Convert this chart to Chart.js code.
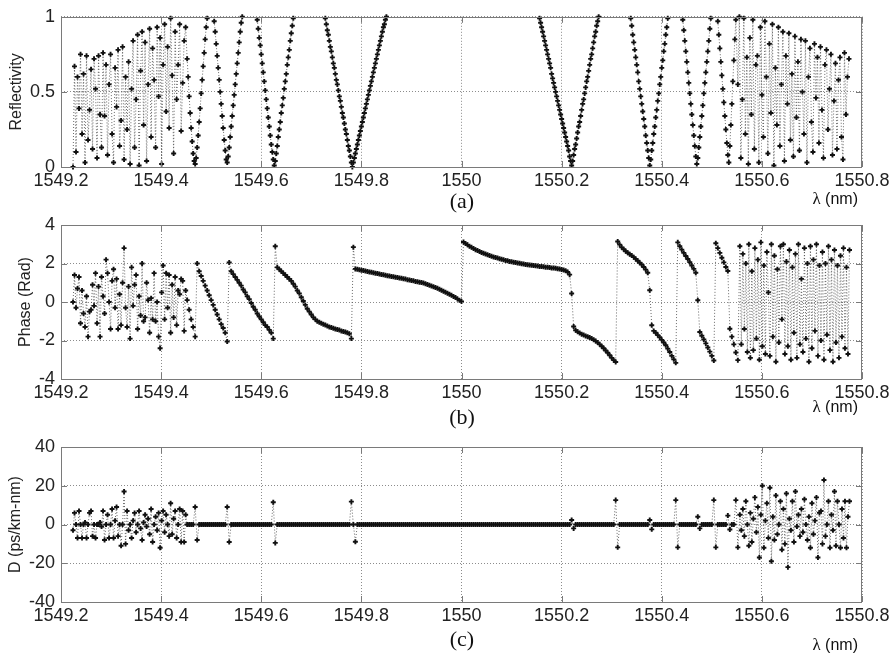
<!DOCTYPE html>
<html>
<head>
<meta charset="utf-8">
<title>Reflectivity, phase and dispersion</title>
<script src="https://cdn.jsdelivr.net/npm/chart.js@4.4.1/dist/chart.umd.min.js"></script>
<style>
  body { margin: 0; background: #fff; }
  #figure { position: relative; width: 896px; height: 654px; }
  #figure canvas { position: absolute; left: 0; }
  .caption { position: absolute; left: 412px; width: 100px; text-align: center; font: 22px "Liberation Serif", serif; line-height: 24px; color: #111; }
  .unit { position: absolute; right: 38px; font: 16px "Liberation Sans", Arial, sans-serif; line-height: 18px; color: #111; }
  .unit span { font-family: "Liberation Serif", serif; font-size: 17px; }
</style>
</head>
<body>
<div id="figure">
  <canvas id="reflChart" width="896" height="200" style="top:0"></canvas>
  <canvas id="phaseChart" width="896" height="220" style="top:200px"></canvas>
  <canvas id="dispChart" width="896" height="234" style="top:420px"></canvas>
  <div class="caption" style="top:189px">(a)</div>
  <div class="unit" style="top:190px"><span>λ</span> (nm)</div>
  <div class="caption" style="top:405px">(b)</div>
  <div class="unit" style="top:398px"><span>λ</span> (nm)</div>
  <div class="caption" style="top:627px">(c)</div>
  <div class="unit" style="top:636px"><span>λ</span> (nm)</div>
</div>
<script>
// Axis ticks
const xTicks = [1549.2, 1549.4, 1549.6, 1549.8, 1550, 1550.2, 1550.4, 1550.6, 1550.8];
const reflTicks = [0, 0.5, 1];
const phaseTicks = [-4, -2, 0, 2, 4];
const dispTicks = [-40, -20, 0, 20, 40];

// (a) Reflectivity. Noisy edges sampled every 0.003 nm, the dips every 0.002 nm
const reflNoiseLeft = [  // from 1549.224
  0.0, 0.67, 0.1, 0.6, 0.39, 0.75, 0.22, 0.62, 0.03, 0.74,
  0.18, 0.38, 0.65, 0.12, 0.72, 0.52, 0.06, 0.74, 0.35, 0.13,
  0.76, 0.34, 0.68, 0.08, 0.55, 0.75, 0.22, 0.03, 0.66, 0.4,
  0.78, 0.14, 0.31, 0.8, 0.05, 0.6, 0.25, 0.7, 0.02, 0.52,
  0.84, 0.13, 0.45, 0.88, 0.01, 0.64, 0.9, 0.28, 0.83, 0.04,
  0.55, 0.92, 0.2, 0.79, 0.58, 0.13, 0.93, 0.47, 0.86, 0.02,
  0.68, 0.95, 0.37, 0.8, 0.26, 0.99, 0.61, 0.09, 0.9, 0.45,
  0.68, 0.95, 0.24, 0.56, 0.84, 0.93
];
const reflDip1 = [0.72, 0.6, 0.47, 0.36, 0.26, 0.17, 0.09, 0.04, 0.02, 0.06, 0.13, 0.21, 0.3, 0.39, 0.49, 0.58, 0.67, 0.76, 0.85, 0.93, 0.99];
const reflDip2 = [0.97, 0.9, 0.82, 0.74, 0.66, 0.58, 0.5, 0.42, 0.34, 0.26, 0.18, 0.11, 0.05, 0.03,
  0.07, 0.13, 0.2, 0.27, 0.34, 0.41, 0.48, 0.55, 0.62, 0.69, 0.76, 0.83, 0.9, 0.96, 1.0];
const reflDip3 = [0.98, 0.92, 0.86, 0.81, 0.75, 0.69, 0.63, 0.57, 0.51, 0.45, 0.39, 0.33, 0.27, 0.21, 0.15, 0.1, 0.05, 0.01,
  0.04, 0.09, 0.14, 0.2, 0.25, 0.3, 0.36, 0.41, 0.46, 0.52, 0.57, 0.62, 0.68, 0.73, 0.78, 0.84, 0.89, 0.94, 0.99];
const reflDip4 = [0.99, 0.95, 0.91, 0.88, 0.84, 0.8, 0.77, 0.73, 0.69, 0.66, 0.62, 0.58, 0.55, 0.51, 0.47, 0.44, 0.4, 0.36,
  0.33, 0.29, 0.25, 0.22, 0.18, 0.14, 0.11, 0.07, 0.03, 0.0,
  0.03, 0.06, 0.09, 0.12, 0.15, 0.18, 0.21, 0.24, 0.27, 0.3, 0.33, 0.36, 0.39, 0.42, 0.45, 0.48, 0.51, 0.54,
  0.57, 0.6, 0.63, 0.66, 0.69, 0.72, 0.75, 0.78, 0.81, 0.84, 0.87, 0.9, 0.93, 0.95, 0.98, 1.0];
const reflDip5 = [0.99, 0.96, 0.93, 0.9, 0.87, 0.84, 0.81, 0.78, 0.75, 0.72, 0.69, 0.66, 0.62, 0.59, 0.56, 0.53, 0.5,
  0.47, 0.44, 0.41, 0.38, 0.35, 0.32, 0.29, 0.26, 0.23, 0.2, 0.17, 0.14, 0.11, 0.07, 0.04, 0.01,
  0.04, 0.08, 0.12, 0.15, 0.19, 0.23, 0.27, 0.3, 0.34, 0.38, 0.42, 0.45, 0.49, 0.53, 0.57, 0.6, 0.64,
  0.68, 0.72, 0.75, 0.79, 0.83, 0.87, 0.9, 0.94, 0.97, 1.0];
const reflDip6 = [0.99, 0.94, 0.88, 0.83, 0.78, 0.73, 0.68, 0.63, 0.57, 0.52, 0.47, 0.42, 0.37, 0.32, 0.27, 0.21, 0.16, 0.11, 0.06, 0.01,
  0.05, 0.11, 0.16, 0.22, 0.27, 0.33, 0.38, 0.44, 0.49, 0.55, 0.6, 0.66, 0.71, 0.77, 0.82, 0.88, 0.93, 0.99];
const reflDip7 = [0.98, 0.91, 0.84, 0.77, 0.7, 0.63, 0.56, 0.49, 0.42, 0.35, 0.28, 0.21, 0.14, 0.07, 0.02,
  0.06, 0.13, 0.2, 0.27, 0.34, 0.41, 0.49, 0.56, 0.63, 0.7, 0.77, 0.84, 0.92, 0.99];
const reflDip8 = [0.97, 0.88, 0.79, 0.7, 0.61, 0.52, 0.43, 0.34, 0.25, 0.16, 0.08, 0.03,
  0.14, 0.28, 0.42, 0.57, 0.71, 0.85, 0.98];
const reflNoiseRight = [  // from 1550.552
  0.55, 1.0, 0.06, 0.45, 0.99, 0.22, 0.73, 0.02, 0.86, 0.35,
  0.98, 0.12, 0.68, 0.74, 0.03, 0.93, 0.48, 0.2, 0.97, 0.6,
  0.09, 0.82, 0.36, 0.95, 0.01, 0.66, 0.28, 0.93, 0.14, 0.55,
  0.9, 0.04, 0.74, 0.42, 0.89, 0.18, 0.62, 0.07, 0.87, 0.33,
  0.7, 0.11, 0.85, 0.5, 0.22, 0.84, 0.03, 0.6, 0.79, 0.3,
  0.1, 0.82, 0.46, 0.73, 0.16, 0.8, 0.38, 0.06, 0.68, 0.78,
  0.25, 0.52, 0.75, 0.08, 0.44, 0.69, 0.12, 0.58, 0.73, 0.2,
  0.05, 0.76, 0.35, 0.6, 0.72
];

// (b) Phase (rad)
const phaseNoiseLeft = [  // from 1549.224, every 0.003 nm
  0.0, 1.4, -0.3, 0.7, 1.3, -1.1, 0.6, -0.6, -1.3, 0.3,
  -1.8, -0.5, -0.4, 0.9, -0.2, 1.5, -1.1, 0.8, -1.8, 1.3,
  0.3, -0.6, 2.2, 1.5, 0.0, -1.4, 1.1, 1.7, -0.3, 1.2,
  -1.4, 0.4, -1.2, 1.0, 2.8, -0.3, -1.3, 0.8, -1.9, 1.8,
  -0.2, 0.9, 1.4, -1.4, 0.3, -0.7, 2.0, -1.0, -0.8, 1.0,
  0.1, -1.6, 0.2, -0.9, 1.5, -1.0, 0.0, -1.8, -2.4, 0.5,
  1.9, -0.9, 1.5, -0.3, 1.4, -1.6, 0.9, -0.8, 1.3, -1.2,
  0.6, 0.4, 1.2, 1.1, -1.5, 0.6
];
const phaseSmooth = [  // from 1549.452, every 0.004 nm
  0.1, -0.4, -0.9, -1.3, -1.8, 2.0, 1.6, 1.35, 1.1, 0.85,
  0.6, 0.35, 0.1, -0.15, -0.4, -0.65, -0.9, -1.15, -1.35, -1.6,
  -2.05, 2.05, 1.6, 1.45, 1.3, 1.15, 1.0, 0.85, 0.65, 0.5,
  0.3, 0.15, -0.05, -0.25, -0.4, -0.6, -0.75, -0.9, -1.05, -1.2,
  -1.3, -1.45, -1.6, -1.9, 2.9, 1.8, 1.7, 1.6, 1.5, 1.4,
  1.3, 1.2, 1.1, 0.95, 0.8, 0.6, 0.45, 0.25, 0.05, -0.15,
  -0.35, -0.5, -0.65, -0.8, -0.9, -1.0, -1.05, -1.1, -1.15, -1.2,
  -1.25, -1.3, -1.33, -1.36, -1.4, -1.43, -1.46, -1.5, -1.53, -1.56,
  -1.6, -1.65, -1.9, 2.85, 1.72, 1.7, 1.67, 1.65, 1.63, 1.61,
  1.59, 1.56, 1.54, 1.52, 1.5, 1.48, 1.45, 1.43, 1.41, 1.39,
  1.37, 1.35, 1.33, 1.31, 1.29, 1.27, 1.25, 1.23, 1.21, 1.19,
  1.16, 1.14, 1.12, 1.1, 1.07, 1.05, 1.03, 1.01, 0.99, 0.95,
  0.91, 0.87, 0.83, 0.79, 0.75, 0.71, 0.66, 0.61, 0.56, 0.51,
  0.46, 0.4, 0.35, 0.29, 0.23, 0.16, 0.09, 0.03, 3.12, 3.04,
  2.97, 2.9, 2.84, 2.78, 2.72, 2.67, 2.62, 2.57, 2.53, 2.49,
  2.45, 2.41, 2.38, 2.34, 2.31, 2.28, 2.25, 2.22, 2.19, 2.16,
  2.14, 2.11, 2.09, 2.07, 2.05, 2.03, 2.01, 1.99, 1.97, 1.95,
  1.94, 1.92, 1.91, 1.89, 1.88, 1.87, 1.85, 1.84, 1.83, 1.81,
  1.8, 1.79, 1.77, 1.76, 1.75, 1.73, 1.71, 1.69, 1.66, 1.62,
  1.56, 1.42, 0.44, -1.27, -1.47, -1.55, -1.61, -1.67, -1.72, -1.76,
  -1.8, -1.85, -1.9, -1.96, -2.03, -2.11, -2.2, -2.3, -2.4, -2.52,
  -2.64, -2.77, -2.9, -3.02, -3.12, 3.14, 2.98, 2.84, 2.74, 2.64,
  2.56, 2.48, 2.41, 2.33, 2.24, 2.14, 2.04, 1.94, 1.82, 1.68,
  1.52, 0.61, -1.21, -1.5, -1.6, -1.72, -1.84, -1.97, -2.1, -2.25,
  -2.42, -2.6, -2.8, -2.98, -3.16, 3.1, 2.9, 2.72, 2.55, 2.39,
  2.23, 2.07, 1.9, 1.72, 1.52, 0.09, -1.56, -1.75, -1.95, -2.15,
  -2.36, -2.58, -2.8, -3.04, 3.05, 2.8, 2.55, 2.3, 2.06, 1.82,
  1.61, -1.39, -1.8, -2.2, -2.62, -3.02
];
const phaseNoiseRight = [  // from 1550.556, every 0.003 nm
  2.9, -2.2, 2.5, -1.4, 2.0, -2.6, 3.0, -2.9, 1.6, -2.5,
  2.8, -1.9, 2.2, -3.0, 3.1, -2.3, 1.9, -2.7, 2.6, 0.5,
  -2.8, 3.0, -1.8, 2.4, -3.1, 1.7, -2.1, 2.9, -0.9, 3.0,
  -2.7, 2.1, -2.3, 2.7, -3.0, 1.8, -1.6, 2.5, -2.9, 3.0,
  -2.2, 1.2, -2.6, 2.8, -1.9, 2.0, -3.1, 2.9, -2.4, 2.2,
  -1.5, 3.0, -2.8, 1.9, -2.0, 2.6, -3.0, 2.0, -1.7, 2.9,
  -2.5, 2.2, -3.1, 2.7, -2.1, 1.9, -2.9, 2.4, -1.8, 2.8,
  -2.4, 1.8, -2.7, 2.7
];

// (c) Dispersion D (ps/km-nm)
const dispNoiseLeft = [  // from 1549.224, every 0.003 nm
  -3, 6, 0, -7, 7, 0, -7, 0, 1, -7,
  0, 6, 7, -6, 0, -7, 0, 0, 1, -1,
  7, -8, 0, 5, -7, 0, 8, -7, 2, 9,
  -6, 0, -11, 0, 17, -10, 7, -3, 0, -7,
  2, 6, -4, 0, 7, -2, -8, 1, 5, -1,
  3, -5, 8, -9, 0, 4, -3, 6, -12, 2,
  7, -4, 5, 0, -6, 11, -5, 3, 7, -7,
  0, 8, -9, 7, -9, 5
];
const dispFlat = [  // from 1549.452, every 0.004 nm
  0, 0, 0, 0, 9, -8, 0, 0, 0, 0,
  0, 0, 0, 0, 0, 0, 0, 0, 0, 0,
  9, -9, 0, 0, 0, 0, 0, 0, 0, 0,
  0, 0, 0, 0, 0, 0, 0, 0, 0, 0,
  0, 0, 0, 11.5, -9.5, 0, 0, 0, 0, 0,
  0, 0, 0, 0, 0, 0, 0, 0, 0, 0,
  0, 0, 0, 0, 0, 0, 0, 0, 0, 0,
  0, 0, 0, 0, 0, 0, 0, 0, 0, 0,
  0, 0, 11.8, 0, -8.9, 0, 0, 0, 0, 0,
  0, 0, 0, 0, 0, 0, 0, 0, 0, 0,
  0, 0, 0, 0, 0, 0, 0, 0, 0, 0,
  0, 0, 0, 0, 0, 0, 0, 0, 0, 0,
  0, 0, 0, 0, 0, 0, 0, 0, 0, 0,
  0, 0, 0, 0, 0, 0, 0, 0, 0, 0,
  0, 0, 0, 0, 0, 0, 0, 0, 0, 0,
  0, 0, 0, 0, 0, 0, 0, 0, 0, 0,
  0, 0, 0, 0, 0, 0, 0, 0, 0, 0,
  0, 0, 0, 0, 0, 0, 0, 0, 0, 0,
  0, 0, 0, 0, 0, 0, 0, 0, 0, 0,
  0, 0, 2.3, -2, 0, 0, 0, 0, 0, 0,
  0, 0, 0, 0, 0, 0, 0, 0, 0, 0,
  0, 0, 0, 0, 12.6, -11.8, 0, 0, 0, 0,
  0, 0, 0, 0, 0, 0, 0, 0, 0, 0,
  0, 2.3, -2.5, 0, 0, 0, 0, 0, 0, 0,
  0, 0, 0, 0, 12.6, -11.8, 0, 0, 0, 0,
  0, 0, 0, 0, 0, 4, -2, 0, 0, 0,
  0, 0, 0, 12.6, -11.8, 0, 0, 0, 0, 0,
  4.6, -2.6, 0, 0, 12.6, -11.8
];
const dispNoiseRight = [  // from 1550.556, every 0.003 nm
  5, -3, 8, -6, 12, 0, -11, 6, -9, 3,
  14, -4, 9, -17, 5, 20, -12, 2, 11, -7,
  19, -19, 4, -8, 15, -5, 0, 12, -13, 8,
  -10, 16, -22, 3, -3, 12, -9, 17, -1, 5,
  -6, 8, -4, 13, 0, -8, 4, -12, 11, -5,
  2, 14, -17, 6, 7, -10, 23, -6, 0, 12,
  -12, 5, -3, 17, -11, 12, 0, -12, 8, -7,
  12, -12, 4, 12
];

// turn [first wavelength, spacing, values, break before?] runs into scatter points
function buildPoints(runs) {
    const points = [];
    runs.forEach(([start, step, values, gapBefore]) => {
        if (gapBefore) points.push({ x: start, y: null });
        values.forEach((v, i) => points.push({ x: +(start + i * step).toFixed(4), y: v }));
    });
    return points;
}

const tickFont = { family: '"Liberation Sans", Arial, sans-serif', size: 18 };
const titleFont = { family: '"Liberation Sans", Arial, sans-serif', size: 16 };

// MATLAB-like box with small inward ticks
const boxPlugin = {
    id: 'box',
    afterDatasetsDraw(chart) {
        const { ctx, chartArea: a, scales } = chart;
        ctx.save();
        ctx.strokeStyle = '#7a7a7a';
        ctx.lineWidth = 1;
        ctx.strokeRect(Math.round(a.left) + 0.5, Math.round(a.top) + 0.5,
            Math.round(a.right - a.left) - 1, Math.round(a.bottom - a.top));
        ctx.beginPath();
        scales.x.ticks.forEach(t => {
            const px = Math.round(scales.x.getPixelForValue(t.value)) + 0.5;
            ctx.moveTo(px, a.bottom); ctx.lineTo(px, a.bottom - 6);
            ctx.moveTo(px, a.top); ctx.lineTo(px, a.top + 6);
        });
        scales.y.ticks.forEach(t => {
            const py = Math.round(scales.y.getPixelForValue(t.value)) + 0.5;
            ctx.moveTo(a.left, py); ctx.lineTo(a.left + 6, py);
            ctx.moveTo(a.right, py); ctx.lineTo(a.right - 6, py);
        });
        ctx.stroke();
        ctx.restore();
    }
};

function makePanel(canvasId, points, yTicks, yTitle, titleGap, topPad, xAxisHeight) {
    const ctx = document.getElementById(canvasId).getContext('2d');
    return new Chart(ctx, {
        type: 'scatter',
        data: {
            datasets: [{
                data: points,
                showLine: true,
                spanGaps: false,
                borderColor: '#444',
                borderWidth: 0.8,
                borderDash: [1, 2],
                pointStyle: 'cross',
                pointRadius: 2.5,
                pointBorderWidth: 1.9,
                pointBorderColor: '#111',
                pointBackgroundColor: '#111',
                pointHoverRadius: 0,
                clip: 4
            }]
        },
        options: {
            animation: false,
            responsive: false,
            events: [],
            layout: { padding: { top: topPad, right: 34, bottom: 0, left: 0 } },
            plugins: { legend: { display: false }, tooltip: { enabled: false } },
            scales: {
                x: {
                    type: 'linear',
                    min: xTicks[0],
                    max: xTicks[xTicks.length - 1],
                    afterBuildTicks: axis => { axis.ticks = xTicks.map(v => ({ value: v })); },
                    afterFit: axis => { axis.height = xAxisHeight; },
                    ticks: { padding: 3, color: '#222', font: tickFont, maxRotation: 0, autoSkip: false, callback: v => String(v) },
                    grid: { color: '#8c8c8c', lineWidth: 1, drawTicks: false },
                    border: { display: false, dash: [1, 2] }
                },
                y: {
                    type: 'linear',
                    min: yTicks[0],
                    max: yTicks[yTicks.length - 1],
                    afterBuildTicks: axis => { axis.ticks = yTicks.map(v => ({ value: v })); },
                    afterFit: axis => { axis.width = 61; },
                    ticks: { padding: 6, color: '#222', font: tickFont, callback: v => String(v) },
                    grid: { color: '#8c8c8c', lineWidth: 1, drawTicks: false },
                    border: { display: false, dash: [1, 2] },
                    title: { display: true, text: yTitle, color: '#222', font: titleFont, padding: { top: titleGap, bottom: 0 } }
                }
            }
        },
        plugins: [boxPlugin]
    });
}

makePanel('reflChart', buildPoints([
    [1549.224, 0.003, reflNoiseLeft],
    [1549.452, 0.002, reflDip1],
    [1549.506, 0.002, reflDip2, true],
    [1549.592, 0.002, reflDip3, true],
    [1549.728, 0.002, reflDip4, true],
    [1550.156, 0.002, reflDip5, true],
    [1550.338, 0.002, reflDip6, true],
    [1550.442, 0.002, reflDip7, true],
    [1550.512, 0.002, reflDip8, true],
    [1550.552, 0.003, reflNoiseRight]
]), reflTicks, 'Reflectivity', 7, 14, 33);

makePanel('phaseChart', buildPoints([
    [1549.224, 0.003, phaseNoiseLeft],
    [1549.452, 0.004, phaseSmooth],
    [1550.556, 0.003, phaseNoiseRight]
]), phaseTicks, 'Phase (Rad)', 16, 25, 41);

makePanel('dispChart', buildPoints([
    [1549.224, 0.003, dispNoiseLeft],
    [1549.452, 0.004, dispFlat],
    [1550.556, 0.003, dispNoiseRight]
]), dispTicks, 'D (ps/km-nm)', 6, 27, 52);
</script>
</body>
</html>
